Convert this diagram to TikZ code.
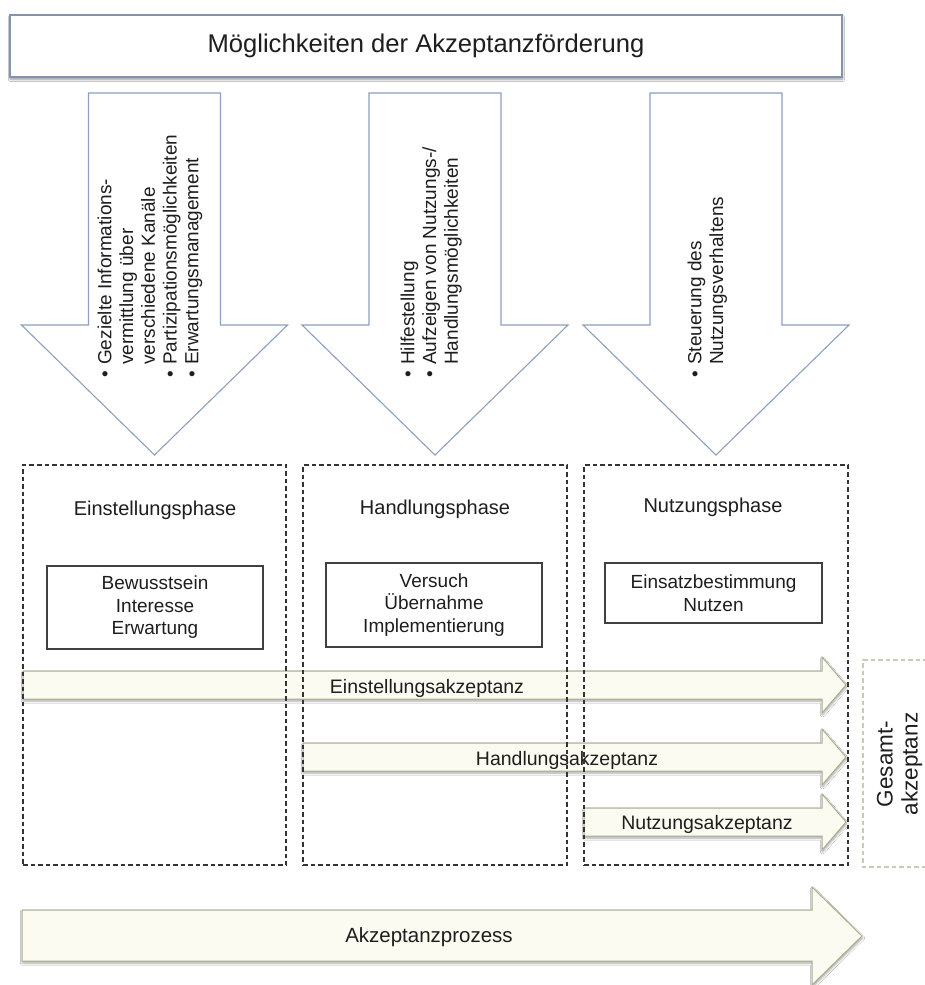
\documentclass[tikz,border=0pt]{standalone}
\usepackage{fontspec}
\setmainfont{Liberation Sans}
\usetikzlibrary{shadows.blur}

\definecolor{framegrey}{HTML}{8293AE}
\definecolor{arrowblue}{HTML}{8DA0C0}
\definecolor{olivedraw}{HTML}{A9AD8C}
\definecolor{creamfill}{HTML}{FBFBF1}
\definecolor{paledash}{HTML}{C9CCB4}
\definecolor{inktext}{HTML}{1E1E1E}

\newcommand\listdot{\makebox[13pt][l]{•}}
\newcommand\listgap{\hspace*{13pt}}
\newcommand\fsize[2]{\fontsize{#1}{#2}\selectfont}

\begin{document}
\begin{tikzpicture}[x=1pt,y=-1pt,
  every node/.style={text=inktext},
  titlebox/.style={draw=framegrey, line width=1.1pt, fill=white,
    minimum width=832pt, minimum height=62pt, font=\fsize{25.6}{30},
    blur shadow={shadow xshift=0.5pt, shadow yshift=-2.5pt, shadow blur steps=6, shadow opacity=40}},
  downarrow/.style={draw=arrowblue, line width=1.1pt, fill=white, line join=miter},
  phasebox/.style={draw=black!80, line width=1.3pt, dash pattern=on 4.5pt off 3pt,
    minimum width=263pt, minimum height=400pt},
  phaselabel/.style={font=\fsize{20}{24}},
  innerbox/.style={draw=black!75, line width=1.4pt, fill=white, align=center,
    minimum width=216pt, font=\fsize{19}{22.5}, inner sep=0pt},
  flatarrow/.style={draw=olivedraw, line width=1pt, fill=creamfill, line join=miter,
    blur shadow={shadow xshift=0.5pt, shadow yshift=-2pt, shadow blur steps=6, shadow opacity=35}},
  flatlabel/.style={font=\fsize{19.5}{23}},
  vtext/.style={rotate=90, align=left, inner sep=0pt, anchor=north west, font=\fsize{19}{21.7}},
  gesbox/.style={draw=paledash, line width=1.3pt, dash pattern=on 4.5pt off 3pt},
  downarr/.pic={\draw[downarrow] (-66,93) -- (66,93) -- (66,325) -- (133,325)
      -- (0,455) -- (-133,325) -- (-66,325) -- cycle;}
]
\useasboundingbox (0,0) rectangle (924,985);
\fill[white] (0,0) rectangle (924,985);

% headline box
\node[titlebox] (title) at (426,46) {Möglichkeiten der Akzeptanzförderung};

% three measures pointing down into the phases
\pic at (154.5,0) {downarr};
\pic at (435,0) {downarr};
\pic at (716,0) {downarr};

\node[vtext] (m1) at (97.5,378) {\listdot Gezielte Informations-\\
  \listgap vermittlung über\\
  \listgap verschiedene Kanäle\\
  \listdot Partizipationsmöglichkeiten\\
  \listdot Erwartungsmanagement};
\node[vtext] (m2) at (400.5,378) {\listdot Hilfestellung\\
  \listdot Aufzeigen von Nutzungs-/\\
  \listgap Handlungsmöglichkeiten};
\node[vtext] (m3) at (687.5,378) {\listdot Steuerung des\\
  \listgap Nutzungsverhaltens};

% acceptance arrows (drawn below the dashed phase frames)
\draw[flatarrow] (23,671) -- (822,671) -- (822,657) -- (846,685) -- (822,713)
  -- (822,699) -- (23,699) -- cycle;
\draw[flatarrow] (303,743) -- (822,743) -- (822,729) -- (846,757) -- (822,785)
  -- (822,771) -- (303,771) -- cycle;
\draw[flatarrow] (584,808) -- (822,808) -- (822,794) -- (846,822) -- (822,850)
  -- (822,836) -- (584,836) -- cycle;
\draw[flatarrow] (22,910) -- (812,910) -- (812,887) -- (862,936) -- (812,985)
  -- (812,961) -- (22,961) -- cycle;

\node[flatlabel] (acc1) at (427,688) {Einstellungsakzeptanz};
\node[flatlabel] (acc2) at (567,760) {Handlungsakzeptanz};
\node[flatlabel] (acc3) at (707,824) {Nutzungsakzeptanz};
\node[flatlabel, font=\fsize{20.5}{24}] (proc) at (429,937) {Akzeptanzprozess};

% phase frames
\node[phasebox] (ph1) at (154.5,665) {};
\node[phasebox, minimum width=264pt] (ph2) at (435,665) {};
\node[phasebox, minimum width=264pt] (ph3) at (716,665) {};

\node[phaselabel] (l1) at (155,510) {Einstellungsphase};
\node[phaselabel] (l2) at (435,509) {Handlungsphase};
\node[phaselabel] (l3) at (713,507) {Nutzungsphase};

\node[innerbox, minimum height=83pt] (b1) at (155,607.5) {Bewusstsein\\Interesse\\Erwartung};
\node[innerbox, minimum height=84pt] (b2) at (434,605) {Versuch\\Übernahme\\Implementierung};
\node[innerbox, minimum height=60pt, minimum width=217pt] (b3) at (713.5,593) {Einsatzbestimmung\\Nutzen};

% overall acceptance frame, running past the right edge
\draw[gesbox] (950,660) -- (863,660) -- (863,867) -- (950,867);
\node[rotate=90, align=center, font=\fsize{22.5}{25}] (ges) at (899.5,764) {Gesamt-\\akzeptanz};
\end{tikzpicture}
\end{document}
